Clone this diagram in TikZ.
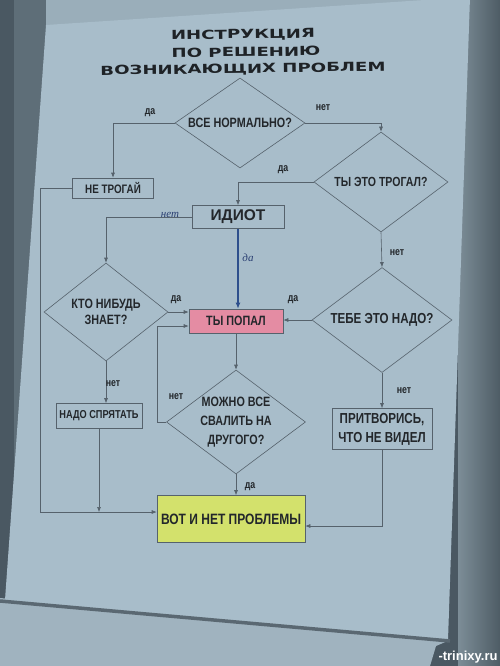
\documentclass[tikz,border=0pt]{standalone}
\usepackage{fontspec}
\setmainfont{Liberation Sans}
\newfontfamily\boxfont[FakeStretch=0.8]{Liberation Sans}
\newfontfamily\titlefont[FakeStretch=1.45]{DejaVu Sans}
\newfontfamily\handfont{Liberation Serif}
\usetikzlibrary{shapes.geometric,arrows.meta}
\definecolor{bgdark}{HTML}{4A5862}
\definecolor{bgleft}{HTML}{5E6E78}
\definecolor{bgmid}{HTML}{7C8D97}
\definecolor{bgright}{HTML}{4E5C65}
\definecolor{wallc}{HTML}{9AAEBA}
\definecolor{paper}{HTML}{A8BDCA}
\definecolor{sheettwo}{HTML}{A0B3BF}
\definecolor{foldc}{HTML}{5A6872}
\definecolor{linec}{HTML}{56626C}
\definecolor{ink}{HTML}{23272B}
\definecolor{inkblue}{HTML}{2A3F72}
\definecolor{arrblue}{HTML}{2E4F8C}
\definecolor{pinkc}{HTML}{E48CA3}
\definecolor{yelc}{HTML}{D3E16C}
\definecolor{titlec}{HTML}{1E2226}
\tikzset{
  ln/.style={draw=linec, line width=0.6pt},
  arr/.style={ln, -{Latex[length=5pt,width=4pt]}},
  dia/.style={diamond, draw=linec, line width=0.6pt, aspect=1.35, inner sep=0pt,
    align=center, text=ink, font=\boxfont\bfseries\fontsize{13.5}{16}\selectfont},
  bx/.style={rectangle, draw=linec, line width=0.6pt, inner sep=0pt, align=center,
    text=ink, font=\boxfont\bfseries\fontsize{13.5}{16}\selectfont},
  lbl/.style={inner sep=1pt, text=ink, font=\boxfont\bfseries\fontsize{11}{12}\selectfont},
  hw/.style={inner sep=1pt, text=inkblue, font=\handfont\itshape\fontsize{11}{12}\selectfont},
  ttl/.style={inner sep=0pt, text=titlec, rotate=0.8, font=\titlefont\bfseries\fontsize{12.5}{14}\selectfont}
}
\begin{document}
\begin{tikzpicture}[x=1pt,y=-1pt]
\useasboundingbox (0,0) rectangle (500,666);
% photo background
\fill[bgdark] (0,0) rectangle (500,666);
\fill[bgleft] (14,0) rectangle (60,620);
\fill[wallc] (46,0) rectangle (466,40);
\shade[left color=bgmid, right color=bgright] (458,0) rectangle (500,666);
\fill[sheettwo] (0,598) -- (450,640) -- (436,646) -- (430,666) -- (0,666) -- cycle;
\fill[paper] (46,25) -- (470,-3) -- (448,640) -- (5,600) -- cycle;
\draw[foldc, line width=3.5pt] (0,601) -- (450,641);
% title
\node[ttl] (t1) at (243,35) {ИНСТРУКЦИЯ};
\node[ttl] (t2) at (246,52) {ПО РЕШЕНИЮ};
\node[ttl] (t3) at (243,69.5) {ВОЗНИКАЮЩИХ ПРОБЛЕМ};
% nodes
\node[dia, minimum width=130pt, minimum height=90pt] (d1) at (240,123) {ВСЕ НОРМАЛЬНО?};
\node[bx, minimum width=81pt, minimum height=20pt, font=\boxfont\bfseries\fontsize{12.3}{14}\selectfont] (nt) at (113,188) {НЕ ТРОГАЙ};
\node[dia, minimum width=134pt, minimum height=100pt, font=\boxfont\bfseries\fontsize{13.2}{16}\selectfont] (d2) at (381,182) {ТЫ ЭТО ТРОГАЛ?};
\node[bx, minimum width=92pt, minimum height=23pt, font=\bfseries\fontsize{15.5}{17}\selectfont] (idiot) at (238,217) {ИДИОТ};
\node[dia, minimum width=124pt, minimum height=98pt, font=\boxfont\bfseries\fontsize{13.5}{16}\selectfont] (d3) at (106,312) {КТО НИБУДЬ\\ЗНАЕТ?};
\node[bx, fill=pinkc, minimum width=94pt, minimum height=24pt] (popal) at (236,321) {ТЫ ПОПАЛ};
\node[dia, minimum width=140pt, minimum height=105pt, font=\boxfont\bfseries\fontsize{14.5}{16}\selectfont] (d4) at (382,320) {ТЕБЕ ЭТО НАДО?};
\node[dia, minimum width=138pt, minimum height=104pt, font=\boxfont\bfseries\fontsize{13.5}{19}\selectfont] (d5) at (236,422) {МОЖНО ВСЕ\\СВАЛИТЬ НА\\ДРУГОГО?};
\node[bx, minimum width=86pt, minimum height=25pt, font=\boxfont\bfseries\fontsize{11.5}{14}\selectfont] (nado) at (99,416) {НАДО СПРЯТАТЬ};
\node[bx, minimum width=100pt, minimum height=41pt, font=\boxfont\bfseries\fontsize{14.5}{19}\selectfont] (prit) at (382,429) {ПРИТВОРИСЬ,\\ЧТО НЕ ВИДЕЛ};
\node[bx, fill=yelc, minimum width=148pt, minimum height=47pt, font=\boxfont\bfseries\fontsize{15}{17}\selectfont] (vot) at (231,519) {ВОТ И НЕТ ПРОБЛЕМЫ};
% connectors
\draw[arr] (d1.west) -| (nt.north);
\draw[arr] (d1.east) -| (d2.north);
\draw[arr] (d2.west) -| (idiot.north);
\draw[arr] (idiot.west) -| (d3.north);
\draw[arrblue, line width=1.6pt, -{Latex[length=6pt,width=5pt]}] (idiot.south) -- (idiot.south |- popal.north);
\draw[arr] (d3.east) -- (popal.west |- d3.east);
\draw[arr] (d4.west) -- (popal.east |- d4.west);
\draw[arr] (d2.south) -- (d4.north);
\draw[arr] (popal.south) -- (d5.north);
\draw[arr] (d5.west) -- ++(-9,0) |- ([yshift=-5pt]popal.west);
\draw[arr] (d5.south) -- (d5.south |- vot.north);
\draw[arr] (d3.south) -- (d3.south |- nado.north);
\draw[arr] (d4.south) -- (prit.north);
\coordinate (lb) at (40,512);
\draw[arr] (nt.west) -- (nt.west -| lb) -- (lb) -- (lb -| vot.west);
\draw[arr] (nado.south) -- (nado.south |- lb);
\draw[arr] (prit.south) |- ([yshift=-7pt]vot.east);
% labels
\node[lbl] (l1) at (150,113) {да};
\node[lbl] (l2) at (323,108) {нет};
\node[lbl] (l3) at (283,170) {да};
\node[lbl] (l4) at (397,253) {нет};
\node[lbl] (l5) at (176,300) {да};
\node[lbl] (l6) at (293,300) {да};
\node[lbl] (l7) at (176,397) {нет};
\node[lbl] (l8) at (113,384) {нет};
\node[lbl] (l9) at (404,391) {нет};
\node[lbl] (l10) at (250,487) {да};
\node[hw] (h1) at (170,215) {нет};
\node[hw] (h2) at (248,258) {да};
% watermark
\node[inner sep=0pt, text=white, font=\bfseries\fontsize{13}{14}\selectfont] (wm) at (468,657) {-trinixy.ru};
\end{tikzpicture}
\end{document}
